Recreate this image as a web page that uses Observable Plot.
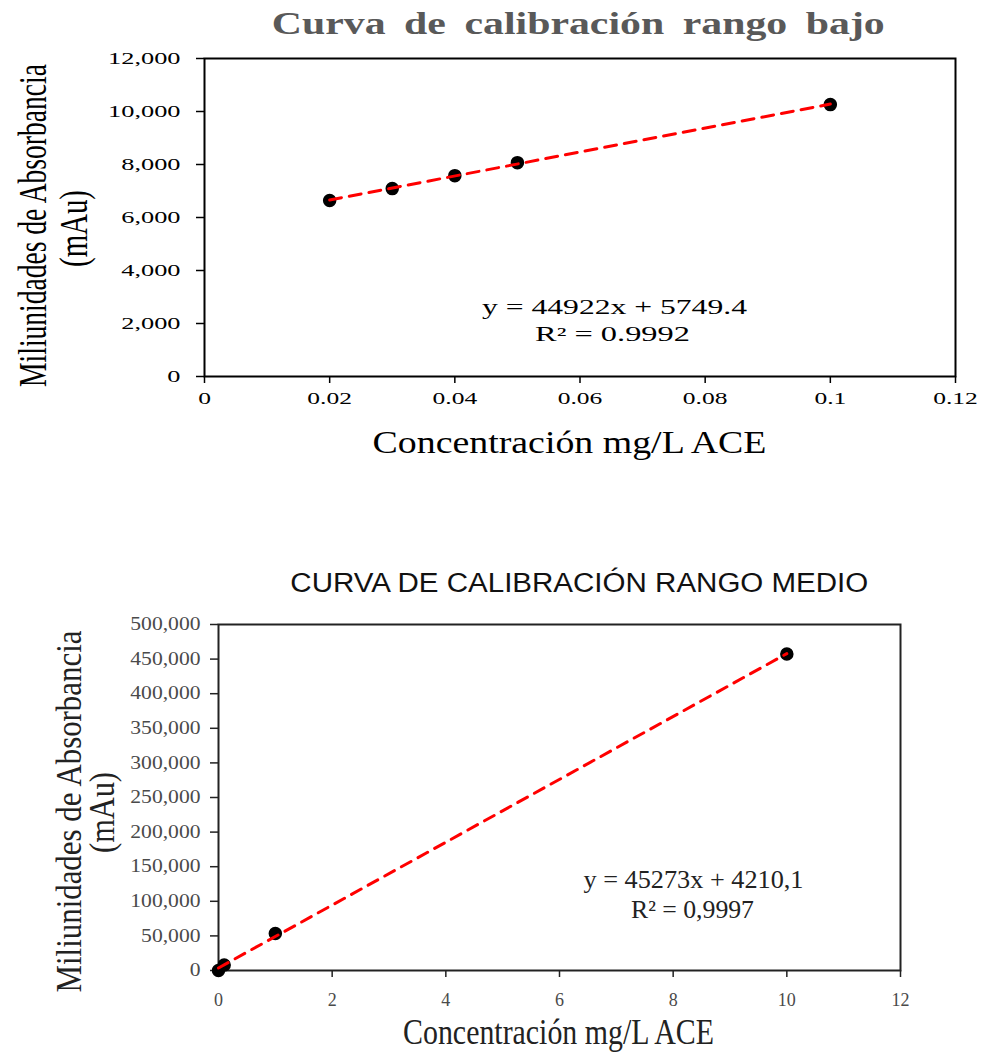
<!DOCTYPE html>
<html><head><meta charset="utf-8">
<script src="https://cdn.jsdelivr.net/npm/d3@7"></script>
<script src="https://cdn.jsdelivr.net/npm/@observablehq/plot@0.6"></script>
<style>
body{margin:0;background:#fff;}
#root{position:relative;width:982px;height:1053px;overflow:hidden;background:#fff;}
.title{position:absolute;white-space:nowrap;text-align:center;line-height:1;}
.title span{display:inline-block;transform-origin:50% 50%;}
.chart{position:absolute;left:0;}
</style></head><body><div id="root"></div>
<script>
// ---------- data ----------
const lowConc = [0.02, 0.03, 0.04, 0.05, 0.1];
const lowAbs = [6640, 7090, 7580, 8070, 10260];
const midConc = [0, 0.1, 1, 10];
const midAbs = [0, 8000, 53500, 457500];
const lowXTicks = [0, 0.02, 0.04, 0.06, 0.08, 0.1, 0.12];
const lowYTicks = [0, 2000, 4000, 6000, 8000, 10000, 12000];
const midXTicks = [0, 2, 4, 6, 8, 10, 12];
const midYTicks = [0, 50000, 100000, 150000, 200000, 250000, 300000, 350000, 400000, 450000, 500000];
const lowTitle = "Curva de calibración rango bajo";
const midTitle = "CURVA DE CALIBRACIÓN RANGO MEDIO";
const yLabelLine1 = "Miliunidades de Absorbancia";
const yLabelLine2 = "(mAu)";
const xLabelText = "Concentración mg/L ACE";
const lowEquation = ["y = 44922x + 5749.4", "R² = 0.9992"];
const midEquation = ["y = 45273x + 4210,1", "R² = 0,9997"];

const lowData = lowConc.map((c, i) => ({c, a: lowAbs[i]}));
const midData = midConc.map((c, i) => ({c, a: midAbs[i]}));

const SERIF = "'Liberation Serif','Times New Roman',serif";
const SANS = "'Liberation Sans',Arial,sans-serif";
const root = document.getElementById("root");

function addTitle(text, o) {
  const d = document.createElement("div");
  d.className = "title";
  d.style.left = (o.cx - 500) + "px";
  d.style.width = "1000px";
  d.style.top = o.top + "px";
  d.style.font = `${o.weight} ${o.size}px ${o.font}`;
  d.style.color = o.color;
  if (o.wordSpacing) d.style.wordSpacing = o.wordSpacing + "px";
  const s = document.createElement("span");
  s.textContent = text;
  d.appendChild(s);
  root.appendChild(d);
  const w = s.getBoundingClientRect().width;
  s.style.transform = `scaleX(${o.length / w})`;
}

function label(text, o, m) {
  return Plot.text([text], {
    text: d => d, frameAnchor: "top-left",
    dx: o.x - m.left, dy: o.y - m.top - m.svgTop,
    textAnchor: "middle", lineAnchor: "bottom", rotate: o.rotate || 0,
    fontSize: o.size, fontFamily: SERIF, fill: o.fill || "black"
  });
}

function setLength(t, L) {
  t.setAttribute("textLength", L);
  t.setAttribute("lengthAdjust", "spacingAndGlyphs");
}

// scale a text along its own writing direction (keeps anchor point fixed)
function scaleText(t, L) {
  const k = L / t.getComputedTextLength();
  const tr = t.getAttribute("transform") || "";
  const x = parseFloat(t.getAttribute("x")) || 0;
  t.setAttribute("transform", `${tr} translate(${x},0) scale(${k},1) translate(${-x},0)`.trim());
}

function makeChart(cfg) {
  const m = cfg.m;
  const svg = Plot.plot({
    width: 982, height: cfg.height,
    marginTop: m.top, marginBottom: m.bottom, marginLeft: m.left, marginRight: m.right,
    style: {fontFamily: SERIF, background: "white", overflow: "visible"},
    x: {domain: cfg.xDomain},
    y: {domain: cfg.yDomain},
    marks: [
      Plot.axisX({ticks: cfg.xTicks, tickFormat: d => String(d), tickSize: 7, tickPadding: cfg.xPad,
        fontSize: cfg.tickSize, fontFamily: SERIF, fill: cfg.tickColor, stroke: cfg.frameColor, strokeWidth: 1.5, label: null}),
      Plot.axisY({ticks: cfg.yTicks, tickFormat: d3.format(","), tickSize: 8, tickPadding: cfg.yPad,
        fontSize: cfg.tickSize, fontFamily: SERIF, fill: cfg.tickColor, stroke: cfg.frameColor, strokeWidth: 1.5, label: null}),
      Plot.frame({stroke: cfg.frameColor, strokeWidth: 2}),
      Plot.dot(cfg.data, {x: "c", y: "a", r: 6, fill: "black", stroke: "black"}),
      Plot.linearRegressionY(cfg.data, {x: "c", y: "a", stroke: "#ff0000", strokeWidth: 3, strokeDasharray: cfg.dash, ci: 0}),
      ...cfg.labels.map(l => label(l.text, l, {...m, svgTop: cfg.svgTop}))
    ]
  });
  svg.classList.add("chart");
  svg.style.top = cfg.svgTop + "px";
  root.appendChild(svg);
  svg.querySelectorAll('g[aria-label="x-axis tick label"] text').forEach(t => setLength(t, t.getComputedTextLength() * cfg.xStretch));
  svg.querySelectorAll('g[aria-label="y-axis tick label"] text').forEach(t => setLength(t, t.getComputedTextLength() * cfg.yStretch));
  const groups = svg.querySelectorAll('g[aria-label="text"]');
  cfg.labels.forEach((l, i) => {
    if (groups[i]) groups[i].querySelectorAll("text").forEach(t => scaleText(t, l.length));
  });
}

// ---------- chart 1: rango bajo ----------
addTitle(lowTitle, {cx: 578, top: 6, size: 31, weight: "bold", font: SERIF, color: "#595959", length: 613, wordSpacing: 6});
makeChart({
  svgTop: 45, height: 425,
  m: {top: 13, bottom: 94, left: 204, right: 27},
  xDomain: [0, 0.12], yDomain: [0, 12000],
  xTicks: lowXTicks, yTicks: lowYTicks,
  xPad: 8, yPad: 16, tickSize: 17, tickColor: "black", frameColor: "black",
  xStretch: 1.5, yStretch: 1.55,
  data: lowData, dash: "12,8",
  labels: [
    {text: lowEquation[0], x: 614, y: 313, size: 20, length: 265},
    {text: lowEquation[1], x: 612, y: 340, size: 20, length: 155},
    {text: xLabelText, x: 569, y: 452, size: 32, length: 394},
    {text: yLabelLine1, x: 45, y: 225, size: 39, length: 323, rotate: -90},
    {text: yLabelLine2, x: 86, y: 228, size: 39, length: 77, rotate: -90}
  ]
});

// ---------- chart 2: rango medio ----------
addTitle(midTitle, {cx: 579, top: 568, size: 27, weight: "normal", font: SANS, color: "#111", length: 578});
makeChart({
  svgTop: 605, height: 448,
  m: {top: 19, bottom: 83, left: 218, right: 82},
  xDomain: [0, 12], yDomain: [0, 500000],
  xTicks: midXTicks, yTicks: midYTicks,
  xPad: 16, yPad: 10, tickSize: 18, tickColor: "#4a4a4a", frameColor: "#222",
  xStretch: 1.0, yStretch: 1.2,
  data: midData, dash: "11,8",
  labels: [
    {text: midEquation[0], x: 693, y: 887, size: 25, length: 220, fill: "#222"},
    {text: midEquation[1], x: 692, y: 917, size: 25, length: 123, fill: "#222"},
    {text: xLabelText, x: 558, y: 1043, size: 35, length: 311, fill: "#222"},
    {text: yLabelLine1, x: 80, y: 811, size: 36, length: 362, rotate: -90, fill: "#222"},
    {text: yLabelLine2, x: 113, y: 812, size: 36, length: 81, rotate: -90, fill: "#222"}
  ]
});
</script></body></html>
